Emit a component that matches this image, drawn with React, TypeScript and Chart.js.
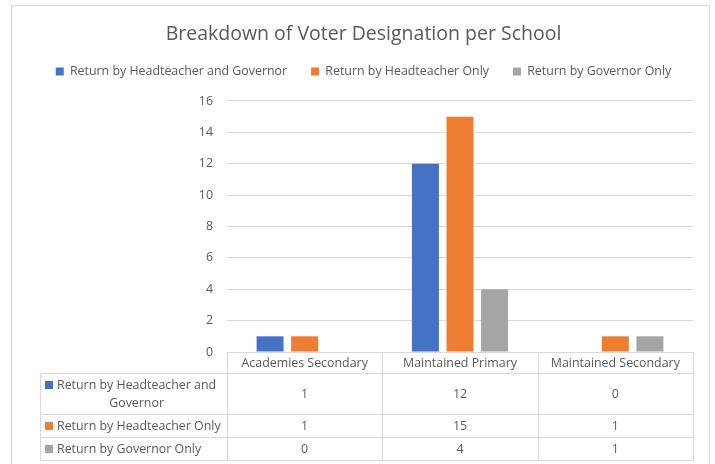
import { useEffect, useRef } from "react";
import { Chart, registerables } from "chart.js";

Chart.register(...registerables);

const titleText = "Breakdown of Voter Designation per School";
const categories = ["Academies Secondary", "Maintained Primary", "Maintained Secondary"];
const seriesNames = [
  "Return by Headteacher and Governor",
  "Return by Headteacher Only",
  "Return by Governor Only",
];
const headteacherAndGovernor = [1, 12, 0];
const headteacherOnly = [1, 15, 1];
const governorOnly = [0, 4, 1];
const seriesValues = [headteacherAndGovernor, headteacherOnly, governorOnly];
const seriesColors = ["#4472C4", "#ED7D31", "#A5A5A5"];
const yMin = 0;
const yMax = 16;
const yStep = 2;

const FONT = "Open Sans";
const SMALL = 12.4;
const TITLE_SIZE = 19.5;
const TEXT = "#595959";
const LINE = "#d9d9d9";

function wrapText(ctx: CanvasRenderingContext2D, text: string, maxW: number): string[] {
  const words = text.split(" ");
  const lines: string[] = [];
  let cur = "";
  for (const w of words) {
    const test = cur ? cur + " " + w : w;
    if (ctx.measureText(test).width > maxW && cur) {
      lines.push(cur);
      cur = w;
    } else cur = test;
  }
  if (cur) lines.push(cur);
  return lines;
}

const framePlugin = {
  id: "frame",
  beforeDraw(chart: any) {
    const ctx = chart.ctx as CanvasRenderingContext2D;
    ctx.save();
    ctx.fillStyle = "#ffffff";
    ctx.fillRect(0, 0, chart.width, chart.height);
    ctx.strokeStyle = LINE;
    ctx.lineWidth = 1;
    ctx.strokeRect(11.5, 5.5, 698, chart.height + 20);
    ctx.restore();
  },
};

const tablePlugin = {
  id: "dataTable",
  afterDraw(chart: any) {
    const ctx = chart.ctx as CanvasRenderingContext2D;
    const area = chart.chartArea;
    const xs = chart.scales.x;
    const n = categories.length;
    const colW = (area.right - area.left) / n;
    const top = Math.round(area.bottom) + 0.5;
    const headerH = 21;
    const legendLeft = 40.5;
    const textLeft = 57;
    const lineH = 18;
    ctx.save();
    ctx.font = `${SMALL}px ${FONT}`;
    const maxW = area.left - textLeft - 2;
    const wrapped = seriesNames.map((s) => wrapText(ctx, s, maxW));
    const rowHs = wrapped.map((l) => l.length * lineH + 5);
    const rowTops: number[] = [];
    let y = top + headerH;
    for (const h of rowHs) {
      rowTops.push(y);
      y += h;
    }
    const bottom = y;

    ctx.strokeStyle = LINE;
    ctx.lineWidth = 1;
    const hline = (x1: number, x2: number, yy: number) => {
      ctx.beginPath();
      ctx.moveTo(x1, yy);
      ctx.lineTo(x2, yy);
      ctx.stroke();
    };
    const vline = (xx: number, y1: number, y2: number) => {
      ctx.beginPath();
      ctx.moveTo(xx, y1);
      ctx.lineTo(xx, y2);
      ctx.stroke();
    };
    const left = Math.round(area.left) + 0.5;
    const right = Math.round(area.right) + 0.5;
    hline(left, right, top);
    hline(legendLeft, right, top + headerH);
    rowTops.forEach((rt, i) => hline(legendLeft, right, rt + rowHs[i]));
    vline(legendLeft, top + headerH, bottom);
    for (let i = 0; i <= n; i++) {
      const xx = Math.round(area.left + i * colW) + 0.5;
      vline(xx, top, bottom);
    }

    ctx.fillStyle = TEXT;
    ctx.textBaseline = "middle";
    ctx.textAlign = "center";
    categories.forEach((c, i) => {
      ctx.fillText(c, xs.getPixelForValue(i), top + headerH / 2 + 0.5);
    });

    wrapped.forEach((lines, r) => {
      const rt = rowTops[r];
      const h = rowHs[r];
      const firstY = rt + h / 2 - ((lines.length - 1) * lineH) / 2;
      ctx.fillStyle = seriesColors[r];
      ctx.fillRect(45, Math.round(firstY - 4), 8, 8);
      ctx.fillStyle = TEXT;
      if (lines.length === 1) {
        ctx.textAlign = "left";
        ctx.fillText(lines[0], textLeft, firstY);
      } else {
        const widest = Math.max(...lines.map((l) => ctx.measureText(l).width));
        ctx.textAlign = "center";
        lines.forEach((l, li) => ctx.fillText(l, textLeft + widest / 2, firstY + li * lineH));
      }
      ctx.textAlign = "center";
      seriesValues[r].forEach((v, i) => {
        ctx.fillText(String(v), xs.getPixelForValue(i), rt + h / 2);
      });
    });
    ctx.restore();
  },
};

export default function App() {
  const ref = useRef<HTMLCanvasElement>(null);
  useEffect(() => {
    document.body.style.margin = "0";
    if (!ref.current) return;
    Chart.defaults.font.family = FONT;
    Chart.defaults.color = TEXT;
    const chart = new Chart(ref.current, {
      type: "bar",
      data: {
        labels: categories,
        datasets: seriesNames.map((name, i) => ({
          label: name,
          data: seriesValues[i],
          backgroundColor: seriesColors[i],
          borderWidth: 0,
          categoryPercentage: 0.668,
          barPercentage: 0.78,
        })),
      },
      options: {
        animation: false,
        responsive: false,
        layout: { padding: { left: 12, right: 0, top: 0, bottom: 0 } },
        plugins: {
          title: {
            display: true,
            text: titleText,
            color: TEXT,
            font: { family: FONT, size: TITLE_SIZE, weight: "normal", lineHeight: 0.4 },
            padding: { top: 30.2, bottom: 3.3 },
          },
          legend: {
            display: true,
            position: "top",
            weight: 1000,
            labels: {
              color: TEXT,
              font: { family: FONT, size: SMALL },
              boxWidth: 8,
              boxHeight: 8,
              padding: 24,
            },
          },
          subtitle: {
            display: true,
            text: "",
            weight: 500,
            font: { size: 13.3, lineHeight: 1 },
            padding: 0,
          },
          tooltip: { enabled: false },
        },
        scales: {
          x: {
            display: true,
            grid: { display: false },
            border: { display: false },
            ticks: { display: false },
            afterFit: (s: any) => {
              s.height = 112;
            },
          },
          y: {
            min: yMin,
            max: yMax,
            grid: { color: LINE, drawTicks: false },
            border: { display: false },
            ticks: {
              stepSize: yStep,
              padding: 14,
              color: TEXT,
              font: { family: FONT, size: SMALL },
            },
            afterFit: (s: any) => {
              s.width = 215;
            },
          },
          yRight: {
            position: "right",
            display: true,
            grid: { display: false },
            border: { display: false },
            ticks: { display: false },
            afterFit: (s: any) => {
              s.width = 22;
            },
          },
        },
      },
      plugins: [framePlugin, tablePlugin],
    });
    return () => chart.destroy();
  }, []);
  return <canvas ref={ref} width={715} height={464} style={{ display: "block" }} />;
}
